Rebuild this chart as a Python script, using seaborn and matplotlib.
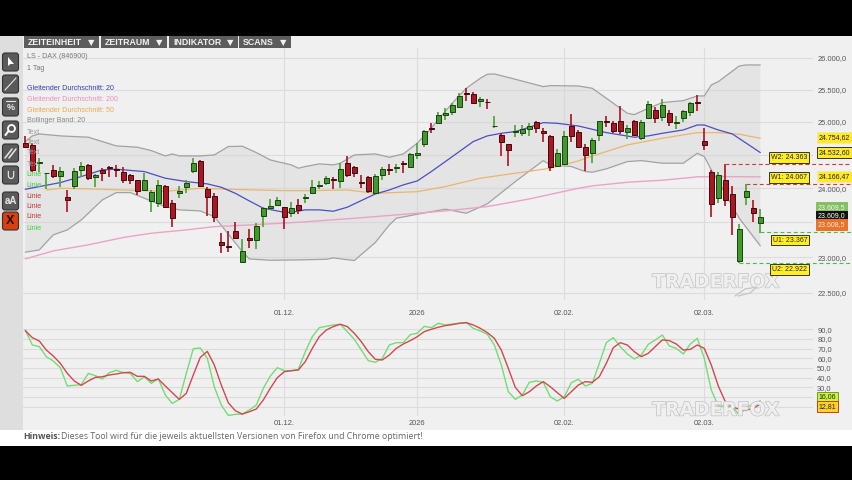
import numpy as np
import matplotlib
matplotlib.use("Agg")
import matplotlib.pyplot as plt
import matplotlib.patheffects as pe
from matplotlib.patches import Rectangle, FancyBboxPatch, Circle, Polygon
from matplotlib.ticker import NullLocator, NullFormatter
import seaborn as sns

sns.set_style("whitegrid")
plt.rcParams["font.family"] = ["Liberation Sans", "DejaVu Sans"]

# daily candles
opens = [24672, 24646, 24379, 24220, 24270, 24186, 23874, 24037, 24270, 24340,
         24161, 24270, 24320, 24285, 24235, 24200, 24116, 23972, 23816, 23787,
         24032, 23777, 23923, 24012, 24255, 24409, 23982, 23889, 23218, 23157,
         23380, 22939, 23271, 23238, 23597, 23714, 23757, 23719, 23630, 23752,
         23855, 23933, 24037, 24077, 24136, 24106, 24370, 24315, 24096, 24166,
         23923, 24191, 24285, 24300, 24379, 24320, 24490, 24662, 24899, 24986,
         25100, 25151, 25234, 25451, 25425, 25317, 25312, 24930, 24793, 24657,
         24844, 24833, 24884, 24991, 24859, 24783, 24335, 24355, 24930, 24849,
         24621, 24520, 24798, 25007, 24981, 25017, 24849, 25007, 24753, 25053,
         25177, 25079, 25131, 24981, 25053, 25157, 25307, 24702, 24240, 23860,
         24116, 23918, 22953, 23864, 23714, 23495]
highs = [24783, 24682, 24444, 24230, 24345, 24320, 23972, 24295, 24384, 24355,
         24210, 24295, 24330, 24345, 24320, 24210, 24126, 24230, 23972, 24116,
         24047, 23825, 24032, 24116, 24454, 24419, 24022, 23923, 23352, 23380,
         23500, 23256, 23400, 23485, 23719, 23835, 23874, 23728, 23792, 23840,
         23913, 24126, 24106, 24181, 24171, 24370, 24479, 24335, 24191, 24186,
         24210, 24310, 24355, 24355, 24404, 24530, 24672, 24874, 24976, 25151,
         25219, 25286, 25441, 25520, 25462, 25389, 25358, 25086, 24823, 24662,
         24945, 24950, 24986, 25017, 24904, 24798, 24591, 24859, 25115, 24874,
         24662, 24747, 25012, 25095, 25012, 25244, 24950, 25027, 25027, 25327,
         25234, 25348, 25182, 25095, 25182, 25312, 25415, 24899, 24270, 24245,
         24360, 24032, 23476, 24067, 23825, 23699]
lows = [24596, 24245, 24245, 23982, 24146, 24022, 23656, 23982, 24171, 24126,
        24012, 24106, 24171, 24171, 24077, 24057, 23898, 23962, 23656, 23728,
        23719, 23428, 23850, 23933, 24220, 24022, 23592, 23510, 23066, 23080,
        23256, 22925, 23128, 23114, 23437, 23680, 23738, 23404, 23582, 23621,
        23777, 23913, 23987, 24047, 23982, 23997, 24161, 24161, 24002, 23933,
        23913, 24126, 24191, 24230, 24230, 24310, 24439, 24621, 24823, 24965,
        25027, 25100, 25208, 25327, 25276, 25234, 25198, 24899, 24484, 24330,
        24763, 24783, 24788, 24833, 24692, 24260, 24310, 24345, 24697, 24596,
        24260, 24379, 24712, 24914, 24823, 24808, 24732, 24783, 24722, 25037,
        24976, 25012, 24935, 24884, 24996, 25090, 25172, 24570, 23572, 23787,
        23738, 23318, 22915, 23752, 23510, 23352]
closes = [24621, 24270, 24394, 24230, 24181, 24255, 23825, 24250, 24330, 24146,
          24200, 24230, 24300, 24270, 24116, 24126, 23962, 24116, 23937, 24047,
          23728, 23558, 23962, 24077, 24370, 24037, 23864, 23582, 23176, 23143,
          23271, 23085, 23238, 23452, 23704, 23743, 23825, 23582, 23704, 23680,
          23869, 24012, 24047, 24156, 24126, 24280, 24191, 24230, 24077, 23952,
          24186, 24285, 24275, 24320, 24365, 24515, 24525, 24859, 24889, 25100,
          25136, 25260, 25400, 25436, 25286, 25348, 25301, 24940, 24687, 24565,
          24864, 24889, 24935, 24904, 24833, 24310, 24525, 24788, 24788, 24611,
          24490, 24722, 25007, 24996, 24854, 24859, 24904, 24798, 24991, 25270,
          25053, 25260, 25002, 24991, 25167, 25286, 25296, 24641, 23772, 24191,
          23821, 23572, 23400, 23952, 23640, 23572]

# bollinger band and moving averages, read at the bends of each curve
upper_x = [0, 1, 2, 5, 9, 13, 16, 18, 20, 21, 22, 25, 27, 29, 31, 33, 35, 38, 39,
           40, 42, 44, 45, 47, 50, 52, 54, 56, 58, 59, 61, 63, 65, 66, 67, 70, 74,
           75, 79, 81, 84, 86, 87, 89, 91, 94, 96, 97, 98, 99, 102, 103, 105]
upper_y = [24697, 24783, 24813, 24783, 24763, 24631, 24611, 24560, 24479, 24510,
           24479, 24479, 24495, 24621, 24626, 24530, 24419, 24345, 24295, 24320,
           24360, 24345, 24370, 24494, 24510, 24459, 24510, 24672, 24899, 25037,
           25286, 25520, 25678, 25741, 25747, 25662, 25546, 25562, 25556, 25520,
           25286, 25131, 25110, 25208, 25296, 25327, 25400, 25400, 25572, 25625,
           25873, 25889, 25889]
lower_x = [0, 2, 4, 6, 8, 11, 13, 15, 17, 20, 22, 25, 27, 31, 32, 35, 39, 43, 44,
           47, 50, 52, 53, 56, 60, 63, 66, 70, 74, 75, 78, 80, 81, 83, 86, 88, 91,
           94, 96, 97, 98, 100, 101, 102, 105]
lower_y = [23071, 23104, 23319, 23390, 23534, 23825, 23933, 23933, 23850, 23728,
           23680, 23665, 23582, 23080, 22976, 22957, 22962, 22971, 22990, 22953,
           23209, 23461, 23558, 23617, 23690, 23631, 23768, 24096, 24409, 24345,
           24320, 24245, 24235, 24285, 24394, 24409, 24370, 24370, 24520, 24469,
           24270, 23923, 23728, 23558, 23162]
sma20_x = [0, 2, 5, 8, 11, 13, 17, 20, 23, 26, 28, 30, 32, 34, 37, 38, 40, 42, 44,
           46, 48, 50, 52, 54, 56, 58, 60, 62, 64, 66, 68, 70, 72, 74, 76, 79, 81,
           83, 85, 87, 89, 91, 94, 96, 97, 99, 101, 103, 105]
sma20_y = [23982, 24022, 24081, 24171, 24270, 24280, 24245, 24146, 24096, 24062,
           24012, 23923, 23811, 23704, 23645, 23645, 23680, 23680, 23660, 23719,
           23816, 23913, 23972, 24047, 24106, 24245, 24394, 24545, 24697, 24783,
           24823, 24849, 24915, 24986, 24976, 24935, 24884, 24833, 24798, 24763,
           24783, 24823, 24874, 24950, 24950, 24874, 24813, 24672, 24530]
sma50_x = [3, 5, 11, 20, 25, 29, 37, 41, 46, 50, 56, 60, 65, 70, 75, 79, 81, 86,
           91, 96, 99, 102, 105]
sma50_y = [23972, 23997, 23982, 23952, 23997, 23982, 23962, 23962, 23972, 23923,
           23947, 24022, 24146, 24220, 24295, 24404, 24479, 24646, 24747, 24833,
           24833, 24808, 24747]
sma200_x = [0, 4, 9, 14, 18, 23, 27, 32, 39, 47, 53, 60, 66, 72, 79, 81, 86, 91,
            96, 99, 105]
sma200_y = [22976, 23090, 23176, 23281, 23342, 23390, 23437, 23461, 23500, 23558,
            23607, 23665, 23728, 23840, 23997, 24032, 24086, 24116, 24166, 24171,
            24166]

# support / resistance levels: value and the candle they start from
level_vals = [24363, 24067, 23367, 22922]
level_from = [100, 103, 105, 102]
level_cols = ["#d03a3a", "#d03a3a", "#45c045", "#45c045"]

# stochastic panel
stoch_k = [89.3, 73.8, 72.1, 61.7, 57.2, 50.3, 31.4, 32.1, 32.8, 44.5, 42.1, 38.6,
           45.2, 47.6, 45.2, 44.5, 35.9, 41.0, 34.1, 39.0, 22.1, 13.4, 17.6, 44.5,
           70.0, 70.7, 60.0, 30.7, 11.7, 1.0, 2.1, 2.4, 6.6, 11.7, 29.0, 41.7, 50.3,
           47.2, 47.2, 48.6, 66.9, 82.4, 91.7, 93.1, 94.5, 95.2, 87.6, 79.7, 68.6,
           57.6, 55.9, 60.0, 73.8, 76.2, 76.2, 84.5, 85.9, 93.1, 91.7, 96.2, 94.5,
           95.5, 96.2, 96.9, 91.0, 88.3, 84.8, 73.8, 53.1, 25.5, 17.6, 22.1, 35.2,
           36.6, 35.2, 20.3, 15.9, 20.3, 34.8, 38.3, 31.4, 34.1, 54.8, 76.2, 81.4,
           72.1, 64.5, 59.3, 63.4, 74.5, 79.0, 84.1, 72.8, 70.3, 64.5, 74.8, 80.7,
           60.0, 27.2, 10.7, 10.7, 10.0, 1.4, 9.3, 12.8, 16.1]
stoch_d = [88.6, 81.4, 77.9, 68.6, 62.4, 54.8, 44.5, 36.6, 32.1, 36.6, 40.3, 41.0,
           42.8, 43.8, 45.2, 45.5, 41.4, 41.4, 36.6, 38.6, 31.4, 24.5, 17.6, 23.8,
           42.8, 61.0, 67.2, 53.1, 32.4, 14.1, 5.9, 2.4, 4.8, 7.6, 16.9, 29.0, 40.0,
           46.2, 47.2, 47.9, 56.6, 70.3, 82.4, 89.3, 92.8, 95.2, 92.8, 85.9, 77.2,
           66.9, 59.0, 58.3, 63.4, 70.3, 74.8, 78.3, 82.4, 87.6, 90.0, 92.1, 93.8,
           94.8, 96.2, 96.9, 94.5, 91.0, 86.6, 80.7, 68.6, 49.7, 30.0, 21.4, 25.5,
           31.4, 35.9, 30.7, 24.5, 18.6, 25.5, 32.4, 35.9, 35.2, 41.0, 54.8, 71.0,
           76.2, 73.8, 66.9, 61.7, 65.2, 72.1, 79.0, 78.3, 74.8, 68.6, 69.3, 73.8,
           70.3, 53.1, 31.4, 15.2, 10.0, 7.2, 6.6, 8.3, 12.8]

date_pos = [37, 56, 77, 97]
date_labels = ["01.12.", "2026", "02.02.", "02.03."]
price_ticks = [26000, 25500, 25000, 24500, 24000, 23500, 23000, 22500]
price_labels = ["26.000,0", "25.500,0", "25.000,0", "", "24.000,0", "", "23.000,0", "22.500,0"]
stoch_ticks = [90, 80, 70, 60, 50, 40, 30, 20, 10]
stoch_labels = ["90,0", "80,0", "70,0", "60,0", "50,0", "40,0", "30,0", "", ""]

W, H = 853, 480
fig = plt.figure(figsize=(8.53, 4.80), dpi=100, facecolor="#f0f0f0")


def px_axes(left, top, right, bottom, **kw):
    return fig.add_axes([left / W, 1 - bottom / H, (right - left) / W, (bottom - top) / H], **kw)


# page furniture, in pixel coordinates
bg = px_axes(0, 0, W, H, zorder=0)
bg.set_xlim(0, W)
bg.set_ylim(H, 0)
bg.axis("off")
bg.add_patch(Rectangle((0, 48), W, 382, color="#f0f0f0", lw=0))
bg.add_patch(Rectangle((0, 36), 23, 394, color="#dedede", lw=0))
bg.add_patch(Rectangle((0, 0), W, 36, color="black", lw=0))
bg.add_patch(Rectangle((0, 430), W, 16, color="white", lw=0))
bg.add_patch(Rectangle((0, 446), W, 34, color="black", lw=0))

tabs = [("ZEITEINHEIT", 24, 99), ("ZEITRAUM", 101, 167), ("INDIKATOR", 169, 238), ("SCANS", 239, 291)]
for name, a, b in tabs:
    bg.add_patch(Rectangle((a, 36), b - a, 12, color="#5c5c5c", lw=0))
    bg.text(a + 4, 42.2, name, color="#f2f2f2", fontsize=6.3, fontweight="bold", va="center")
    bg.text(b - 8, 42.2, "▼", color="#f2f2f2", fontsize=6, va="center", ha="center", family="DejaVu Sans")

btn_y = [62, 84, 107, 130, 153, 175, 201, 221]
for n, yc in enumerate(btn_y):
    col = "#d8400f" if n == 7 else "#5a5a5a"
    bg.add_patch(FancyBboxPatch((2.5, yc - 9), 16, 18, boxstyle="round,pad=0,rounding_size=2.5",
                                fc=col, ec="#333333", lw=0.8))
ic = "#e8e8e8"
bg.add_patch(Polygon([(8, 57), (8, 66), (10.5, 64), (14, 64)], color="white", lw=0))
bg.plot([5, 16], [90, 78], color=ic, lw=0.8)
bg.text(10.5, 108, "%", color=ic, fontsize=6.5, fontweight="bold", ha="center", va="center")
bg.plot([6, 15], [101, 101], color=ic, lw=0.8)
bg.add_patch(Circle((11.5, 128.5), 3.5, fc="none", ec="white", lw=1.3))
bg.plot([8.5, 5.5], [131, 135], color="white", lw=1.5)
bg.plot([5, 12], [158, 149], color=ic, lw=1.1)
bg.plot([9, 16], [158, 149], color=ic, lw=1.1)
bg.text(10.5, 175, "∪", color=ic, fontsize=10, ha="center", va="center", family="DejaVu Sans")
bg.text(10.5, 201, "aA", color=ic, fontsize=7, fontweight="bold", ha="center", va="center")
bg.text(10.5, 221, "X", color="#2a0a00", fontsize=9, fontweight="bold", ha="center", va="center")

candle_x = np.arange(len(opens))
o, h, l, c = map(np.array, (opens, highs, lows, closes))
up = c >= o

# price panel, log scale like the original
ax = px_axes(23, 48, 813, 300, zorder=1, facecolor="none")
ax.set_xlim((23 - 25.3) / 7, (813 - 25.3) / 7)
ax.set_yscale("log")
ax.set_ylim(26000 * np.exp(-(300 - 58) / 1625), 26000 * np.exp(10 / 1625))
ax.set_axisbelow(True)

ax.fill(upper_x + lower_x[::-1], upper_y + lower_y[::-1], color="#d4d4d4", alpha=0.42, lw=0, zorder=1)
for xs, ys in ((upper_x, upper_y), (lower_x, lower_y)):
    sns.lineplot(x=xs, y=ys, ax=ax, color="#a2a2a2", lw=0.9, estimator=None, zorder=2)
sns.lineplot(x=sma200_x, y=sma200_y, ax=ax, color="#eaa3c6", lw=1.0, estimator=None, zorder=2)
sns.lineplot(x=sma50_x, y=sma50_y, ax=ax, color="#e9b66e", lw=0.9, estimator=None, zorder=2)
sns.lineplot(x=sma20_x, y=sma20_y, ax=ax, color="#4d4dc4", lw=0.9, estimator=None, zorder=2)

ax.vlines(candle_x[up], l[up], h[up], color="#4fa635", lw=1.25, zorder=3)
ax.vlines(candle_x[~up], l[~up], h[~up], color="#b3162a", lw=1.25, zorder=3)
bottoms = np.minimum(o, c)
sizes = np.abs(c - o)
ax.bar(candle_x[up], sizes[up], bottom=bottoms[up], width=0.74, color="#3f9a2a", edgecolor="#1c3f12", lw=0.7, zorder=4)
ax.bar(candle_x[~up], sizes[~up], bottom=bottoms[~up], width=0.74, color="#ad1522", edgecolor="#3c0a0e", lw=0.7, zorder=4)

for val, start, col in zip(level_vals, level_from, level_cols):
    ax.plot([start, (W - 25.3) / 7], [val, val], color=col, lw=0.8, ls=(0, (3.5, 2.5)), clip_on=False, zorder=3)

ax.yaxis.set_minor_locator(NullLocator())
ax.yaxis.set_minor_formatter(NullFormatter())
ax.yaxis.tick_right()
ax.set_yticks(price_ticks)
ax.set_yticklabels(price_labels)
ax.set_xticks(date_pos)
ax.set_xticklabels(date_labels)
ax.tick_params(axis="y", length=0, pad=3, labelsize=5.4, labelcolor="#555555")
ax.tick_params(axis="x", length=0, pad=7.2, labelsize=5.4, labelcolor="#555555")
ax.grid(True, color="#dcdcdc", lw=0.8)
sns.despine(ax=ax, left=True, bottom=True, right=True, top=True)

# stochastic panel
ax2 = px_axes(23, 329.3, 813, 416, zorder=1, facecolor="none")
ax2.set_xlim(ax.get_xlim())
ax2.set_ylim(0.4, 90)
ax2.set_axisbelow(True)
sns.lineplot(x=candle_x, y=stoch_k, ax=ax2, color="#74dc74", lw=1.0, estimator=None, zorder=3).lines[-1].set_clip_on(False)
sns.lineplot(x=candle_x, y=stoch_d, ax=ax2, color="#d2494f", lw=1.0, estimator=None, zorder=4).lines[-1].set_clip_on(False)
ax2.yaxis.tick_right()
ax2.set_yticks(stoch_ticks)
ax2.set_yticklabels(stoch_labels)
ax2.set_xticks(date_pos)
ax2.set_xticklabels(date_labels)
ax2.tick_params(axis="y", length=0, pad=3, labelsize=5.4, labelcolor="#555555")
ax2.tick_params(axis="x", length=0, pad=3.2, labelsize=5.4, labelcolor="#555555")
ax2.grid(True, color="#dcdcdc", lw=0.8)
sns.despine(ax=ax2, left=True, bottom=True, right=True, top=True)

# legend texts, boxes and footer on top
top = px_axes(0, 0, W, H, zorder=5, facecolor="none")
top.set_xlim(0, W)
top.set_ylim(H, 0)
top.axis("off")

legend_rows = [("LS - DAX (846900)", 57, "#777777"), ("1 Tag", 68, "#777777"),
               ("Gleitender Durchschnitt: 20", 89, "#3a3ab0"),
               ("Gleitender Durchschnitt: 200", 99.5, "#ec8fbb"),
               ("Gleitender Durchschnitt: 50", 110.5, "#e8ab55"),
               ("Bollinger Band: 20", 121, "#888888"),
               ("Text", 132, "#999999"), ("Text", 142.5, "#999999"),
               ("Text", 153, "#999999"), ("Text", 164, "#999999"),
               ("Linie", 175, "#3fd03f"), ("Linie", 185.5, "#3fd03f"),
               ("Linie", 196, "#c23a3a"), ("Linie", 206.5, "#c23a3a"),
               ("Linie", 217, "#c23a3a"), ("Linie", 228, "#3fd03f")]
for txt, yy, col in legend_rows:
    top.text(26.7, yy, txt, color=col, fontsize=5.15, va="center")


def tag(x, y, txt, fc, tc="#222222", ec="#333333", fs=5.0):
    top.text(x, y, txt, color=tc, fontsize=fs, va="center", ha="left", zorder=6,
             bbox=dict(boxstyle="square,pad=0.25", fc=fc, ec=ec, lw=0.7))


tag(771, 157.5, "W2: 24.363", "#ffee22")
tag(771, 177.5, "W1: 24.067", "#ffee22")
tag(773, 240, "U1: 23.367", "#ffee22")
tag(772, 269.5, "U2: 22.922", "#ffee22")
tag(819, 137.7, "24.754,62", "#ffe92a", ec="#f3e9a0")
tag(819, 152.5, "24.532,60", "#ffe92a")
tag(819, 176.7, "24.166,47", "#ffe92a", ec="#f3e9a0")
tag(817.5, 207.5, "23.609,5", "#84c062", tc="#f4f4f4", ec="#84c062")
tag(817.5, 216, "23.609,0", "#111111", tc="#ffffff", ec="#111111")
tag(817.5, 224.5, "23.608,5", "#e8742a", tc="#fbe3d0", ec="#e8742a")
tag(818.5, 397, "16,06", "#c8f53c", ec="#7a9a20")
tag(818.5, 406.7, "12,81", "#ffd22a", ec="#c8401c")

for wy in (282, 410):
    top.text(716, wy, "TRADERFOX", fontsize=13.5, fontweight="bold", ha="center", va="center",
             family="DejaVu Sans", color="#efefef", zorder=2,
             path_effects=[pe.withStroke(linewidth=1.0, foreground="#c2c2c2")])
top.plot([735, 745, 757, 750, 738], [296, 289, 287, 293, 296], color="#c8c8c8", lw=1.0, zorder=2)

top.text(23, 436.3, "Hinweis:", color="#555555", fontsize=6.3, fontweight="bold", family="Open Sans", va="center")
top.text(61.5, 436.3, "Dieses Tool wird für die jeweils aktuellsten Versionen von Firefox und Chrome optimiert!",
         color="#666666", fontsize=6.3, family="Open Sans", va="center")

fig.savefig("out.png", dpi=100, facecolor=fig.get_facecolor())
